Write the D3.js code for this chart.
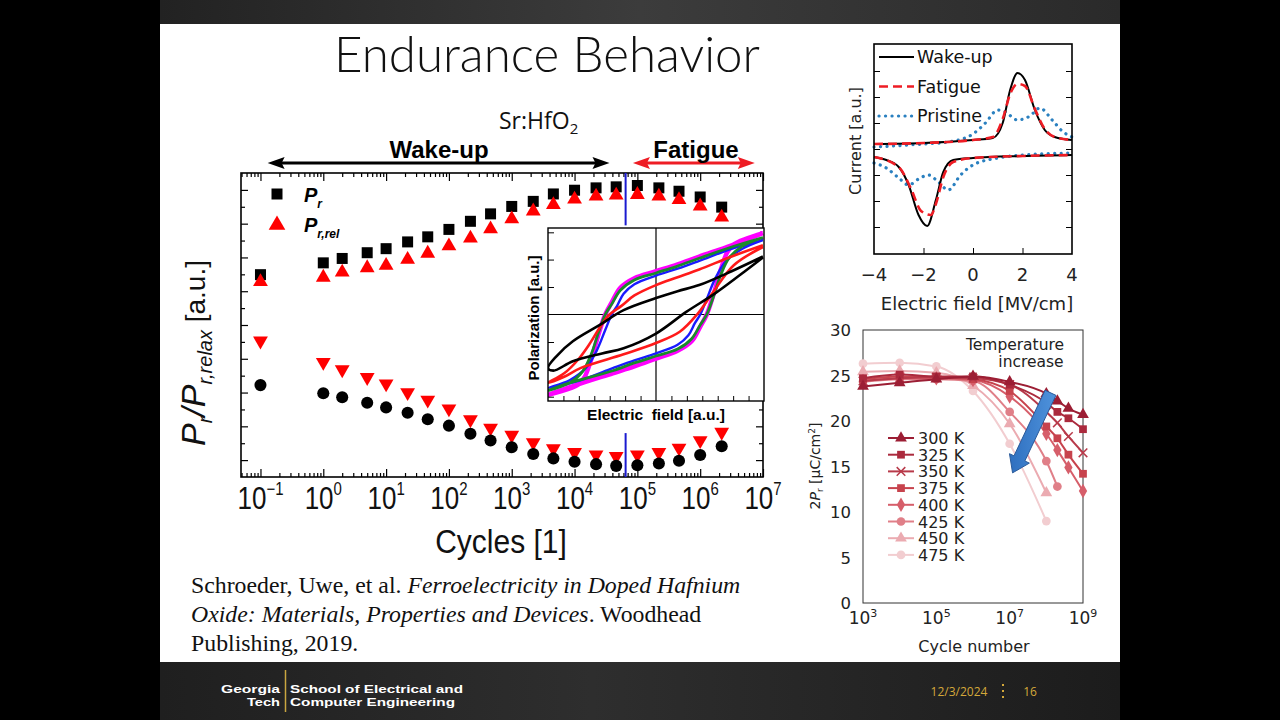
<!DOCTYPE html>
<html>
<head>
<meta charset="utf-8">
<script src="https://cdn.jsdelivr.net/npm/d3@7"></script>
<style>
  body { margin: 0; background: #000; }
  svg { display: block; }
  text { font-family: "Liberation Sans", Arial, sans-serif; }
</style>
</head>
<body>
<div id="chart"></div>
<script>
// ---- main chart: Pr / Pr,relax vs cycles ----
const cycles = [0.1, 1, 2, 5, 10, 22, 46, 100, 220, 460, 1000, 2200, 4600, 1e4, 2.2e4, 4.6e4, 1e5, 2.2e5, 4.6e5, 1e6, 2.2e6];
const prTop = [6.49, 6.84, 6.97, 7.14, 7.26, 7.46, 7.61, 7.83, 8.07, 8.29, 8.51, 8.66, 8.88, 8.99, 9.06, 9.09, 9.13, 9.06, 8.96, 8.79, 8.49];
const prRelTop = [6.28, 6.41, 6.56, 6.69, 6.76, 6.94, 7.12, 7.34, 7.57, 7.84, 8.14, 8.37, 8.56, 8.72, 8.81, 8.84, 8.86, 8.81, 8.71, 8.52, 8.19];
const prRelBottom = [4.53, 3.90, 3.68, 3.45, 3.26, 3.00, 2.78, 2.52, 2.20, 1.95, 1.74, 1.52, 1.34, 1.23, 1.16, 1.11, 1.16, 1.23, 1.36, 1.58, 1.83];
const prBottom = [3.22, 2.98, 2.86, 2.70, 2.56, 2.40, 2.21, 2.02, 1.78, 1.58, 1.38, 1.18, 1.05, 0.95, 0.88, 0.83, 0.85, 0.90, 0.98, 1.15, 1.41];
const decades = [-1, 0, 1, 2, 3, 4, 5, 6, 7];
const markerCycle = 6.5e4;           // blue vertical marker
const wakeUpSpan = [0.13, 3.6e4];
const fatigueSpan = [8.5e4, 7.4e6];

// ---- inset hysteresis loops (E, P in a.u.) ----
const loopMagenta = [[0.99,0.94],[0.7,0.80],[0.4,0.67],[0.2,0.58],[0,0.50],[-0.2,0.42],[-0.33,0.31],[-0.41,0.14],[-0.47,0.0],[-0.53,-0.22],[-0.6,-0.52],[-0.66,-0.72],[-0.72,-0.81],[-1,-0.93],
  [-0.75,-0.82],[-0.4,-0.68],[-0.2,-0.60],[0,-0.51],[0.2,-0.42],[0.33,-0.31],[0.41,-0.14],[0.47,0.0],[0.53,0.22],[0.6,0.52],[0.66,0.72],[0.72,0.81],[0.99,0.94]];
const loopGreen = [[0.99,0.89],[0.7,0.78],[0.4,0.65],[0.2,0.56],[0,0.48],[-0.2,0.40],[-0.33,0.28],[-0.41,0.12],[-0.47,0.0],[-0.53,-0.2],[-0.6,-0.46],[-0.68,-0.66],[-0.8,-0.79],[-1,-0.88],
  [-0.8,-0.79],[-0.4,-0.65],[-0.2,-0.56],[0,-0.48],[0.2,-0.40],[0.33,-0.28],[0.41,-0.12],[0.47,0.0],[0.53,0.2],[0.6,0.46],[0.68,0.66],[0.8,0.79],[0.99,0.89]];
const loopBlue = [[0.99,0.86],[0.7,0.76],[0.4,0.62],[0.2,0.53],[0,0.45],[-0.2,0.35],[-0.3,0.24],[-0.36,0.1],[-0.41,0.0],[-0.47,-0.18],[-0.55,-0.42],[-0.65,-0.62],[-0.8,-0.76],[-1,-0.85],
  [-0.7,-0.76],[-0.4,-0.62],[-0.2,-0.53],[0,-0.45],[0.2,-0.35],[0.3,-0.24],[0.36,-0.1],[0.41,0.0],[0.47,0.18],[0.55,0.42],[0.65,0.62],[0.8,0.76],[0.99,0.86]];
const loopRed = [[0.99,0.80],[0.7,0.67],[0.4,0.52],[0.2,0.43],[0,0.34],[-0.2,0.22],[-0.32,0.1],[-0.43,0.0],[-0.52,-0.15],[-0.62,-0.35],[-0.72,-0.52],[-0.85,-0.68],[-1,-0.79],
  [-0.85,-0.72],[-0.7,-0.62],[-0.3,-0.46],[0,-0.33],[0.22,-0.2],[0.38,0.0],[0.53,0.26],[0.72,0.57],[0.99,0.78]];
const loopBlack = [[0.99,0.67],[0.7,0.50],[0.4,0.34],[0.2,0.27],[0,0.19],[-0.3,0.05],[-0.52,-0.12],[-0.77,-0.31],[-0.92,-0.48],[-1,-0.62],
  [-0.95,-0.65],[-0.77,-0.54],[-0.5,-0.45],[-0.3,-0.39],[0,-0.22],[0.28,0.03],[0.53,0.23],[0.78,0.46],[0.99,0.66]];
const insetETicks = [-6/7, -5/7, -4/7, -3/7, -2/7, -1/7, 1/7, 2/7, 3/7, 4/7, 5/7, 6/7];
const insetPTicks = [-0.95, -0.635, -0.318, 0.318, 0.635, 0.95];

// ---- top right: current vs field ----
const fieldTicks = [-4, -2, 0, 2, 4];
const currentTicks = [-0.78, -0.52, -0.26, 0, 0.26, 0.52, 0.78];
const wakeUpPos = [[-4,0.05],[-2,0.06],[0,0.09],[0.8,0.11],[1.2,0.26],[1.5,0.59],[1.8,0.76],[2.1,0.69],[2.5,0.39],[2.9,0.19],[3.3,0.12],[4,0.09]];
const wakeUpNeg = [[-4,-0.08],[-3.5,-0.11],[-3,-0.18],[-2.6,-0.36],[-2.2,-0.66],[-1.85,-0.77],[-1.5,-0.51],[-1.2,-0.23],[-0.8,-0.11],[0,-0.09],[2,-0.07],[4,-0.06]];
const fatiguePos = [[-4,0.05],[-2,0.06],[0,0.09],[0.8,0.12],[1.2,0.3],[1.5,0.55],[1.8,0.65],[2.1,0.63],[2.5,0.4],[2.9,0.2],[3.3,0.12],[4,0.09]];
const fatigueNeg = [[-4,-0.08],[-3,-0.18],[-2.5,-0.4],[-2.1,-0.62],[-1.7,-0.66],[-1.5,-0.55],[-1.2,-0.28],[-0.8,-0.13],[0,-0.09],[2,-0.07],[4,-0.06]];
const pristinePos = [[-4,0.02],[-2,0.05],[-1,0.07],[0,0.15],[0.5,0.26],[1.0,0.39],[1.3,0.37],[1.8,0.29],[2.3,0.33],[2.7,0.41],[3.2,0.29],[3.6,0.18],[4,0.12]];
const pristineNeg = [[-4,-0.14],[-3.5,-0.19],[-3.0,-0.29],[-2.6,-0.36],[-2.2,-0.3],[-1.8,-0.26],[-1.4,-0.33],[-1.0,-0.41],[-0.5,-0.26],[0,-0.16],[1,-0.09],[2,-0.06],[4,-0.04]];

// ---- bottom right: 2Pr vs cycle number ----
const cycleNum = [1e3, 1e4, 1e5, 1e6, 1e7, 1e8, 2e8, 4e8, 1e9];
const tempLabels = ["300 K", "325 K", "350 K", "375 K", "400 K", "425 K", "450 K", "475 K"];
const pr300 = [23.8, 24.2, 24.6, 24.9, 24.3, 23.0, 22.2, 21.4, 20.7];
const pr325 = [24.7, 25.1, 24.9, 24.9, 24.0, 22.0, 21.0, 20.3, 19.1];
const pr350 = [24.4, 24.7, 24.8, 24.7, 24.0, 21.0, 19.8, 18.3, 16.5];
const pr375 = [24.6, 24.9, 24.8, 24.6, 23.3, 19.4, 18.1, 16.3, 14.2];
const pr400 = [24.4, 24.7, 24.7, 24.5, 22.7, 18.6, 16.8, 14.9, 12.3];
const pr425 = [24.3, 24.6, 24.6, 24.4, 21.0, 15.6, 12.8, null, null];
const pr450 = [25.4, 25.5, 25.3, 23.9, 19.7, 12.1, null, null, null];
const pr475 = [26.3, 26.4, 26.0, 23.3, 17.5, 9.0, null, null, null];
const prTicks = [0, 5, 10, 15, 20, 25, 30];
const cycleTicks = [3, 5, 7, 9];
const arrowFrom = [1.3e8, 23.1], arrowTo = [1.2e7, 14.3];

const W = 1280, H = 720;
const svg = d3.select("#chart").append("svg")
  .attr("width", W).attr("height", H)
  .attr("viewBox", [0, 0, W, H]);

const defs = svg.append("defs");
const topGrad = defs.append("linearGradient").attr("id", "topg").attr("x1", 0).attr("x2", 1);
topGrad.append("stop").attr("offset", 0).attr("stop-color", "#222");
topGrad.append("stop").attr("offset", 0.5).attr("stop-color", "#3c3c3c");
topGrad.append("stop").attr("offset", 1).attr("stop-color", "#2a2a2a");
const footGrad = defs.append("linearGradient").attr("id", "footg").attr("x1", 0).attr("x2", 1);
footGrad.append("stop").attr("offset", 0).attr("stop-color", "#1f1f1f");
footGrad.append("stop").attr("offset", 0.45).attr("stop-color", "#2e2e2e");
footGrad.append("stop").attr("offset", 1).attr("stop-color", "#1c1c1c");
const arrowGrad = defs.append("linearGradient").attr("id", "arrg").attr("x1", 0).attr("x2", 1);
arrowGrad.append("stop").attr("offset", 0).attr("stop-color", "#2f6fbf");
arrowGrad.append("stop").attr("offset", 1).attr("stop-color", "#4f93dc");

// slide frame
svg.append("rect").attr("width", W).attr("height", H).attr("fill", "#000");
svg.append("rect").attr("x", 160).attr("y", 0).attr("width", 960).attr("height", 24).attr("fill", "url(#topg)");
svg.append("rect").attr("x", 160).attr("y", 24).attr("width", 960).attr("height", 638).attr("fill", "#fff");
svg.append("rect").attr("x", 160).attr("y", 662).attr("width", 960).attr("height", 58).attr("fill", "url(#footg)");

svg.append("text")
  .attr("x", 547).attr("y", 72)
  .attr("text-anchor", "middle")
  .style("font-family", "Lato, 'Open Sans', sans-serif")
  .style("font-weight", 300)
  .style("font-size", "49px")
  .attr("textLength", 426).attr("lengthAdjust", "spacingAndGlyphs")
  .attr("fill", "#111")
  .text("Endurance Behavior");

let sr = svg.append("text")
  .attr("x", 499).attr("y", 129)
  .style("font-family", "'Open Sans', sans-serif")
  .style("font-size", "23px")
  .attr("fill", "#111");
sr.append("tspan").text("Sr:HfO");
sr.append("tspan").attr("dy", 5).style("font-size", "15px").text("2");

// ---- main chart ----
const mx = d3.scaleLog().domain([Math.pow(10, -1.31), 1e7]).range([241, 763]);
const my = d3.scaleLinear().domain([0.5, 9.5]).range([477, 173]);

const majorX = decades.map(d => Math.pow(10, d));
const minorX = mx.ticks().filter(t => !majorX.some(m => Math.abs(m - t) / m < 1e-6));
const majorY = d3.range(1, 10);
const minorY = d3.range(1.5, 9.5, 1);

function tickAxis(axis, tr) {
  const g = svg.append("g").attr("transform", tr).call(axis);
  g.select(".domain").remove();
  g.selectAll("line").attr("stroke", "#000").attr("stroke-width", 1.2);
  return g;
}
tickAxis(d3.axisBottom(mx).tickValues(majorX).tickSize(-8).tickFormat(""), "translate(0,477)");
tickAxis(d3.axisBottom(mx).tickValues(minorX).tickSize(-4).tickFormat(""), "translate(0,477)");
tickAxis(d3.axisTop(mx).tickValues(majorX).tickSize(-8).tickFormat(""), "translate(0,173)");
tickAxis(d3.axisTop(mx).tickValues(minorX).tickSize(-4).tickFormat(""), "translate(0,173)");
tickAxis(d3.axisLeft(my).tickValues(majorY).tickSize(-7).tickFormat(""), "translate(241,0)");
tickAxis(d3.axisLeft(my).tickValues(minorY).tickSize(-4).tickFormat(""), "translate(241,0)");
tickAxis(d3.axisRight(my).tickValues(majorY).tickSize(-7).tickFormat(""), "translate(763,0)");
tickAxis(d3.axisRight(my).tickValues(minorY).tickSize(-4).tickFormat(""), "translate(763,0)");
svg.append("rect").attr("x", 241).attr("y", 173).attr("width", 522).attr("height", 304)
  .attr("fill", "none").attr("stroke", "#000").attr("stroke-width", 1.6);

for (const d of decades) {
  const t = svg.append("text")
    .attr("transform", `translate(${mx(Math.pow(10, d))},509) scale(1,1.2)`)
    .attr("text-anchor", "middle")
    .attr("fill", "#111")
    .style("font-size", "26px");
  t.append("tspan").text("10");
  t.append("tspan").attr("dy", -12).style("font-size", "15px").text(d < 0 ? "\u2212" + (-d) : d);
}
svg.append("text")
  .attr("transform", "translate(501,553) scale(1,1.12)")
  .attr("text-anchor", "middle")
  .attr("fill", "#111")
  .style("font-size", "30px")
  .text("Cycles [1]");

const yl = svg.append("text")
  .attr("transform", "translate(205,446) rotate(-90)")
  .attr("fill", "#111")
  .style("font-size", "34px");
yl.append("tspan").style("font-style", "italic").text("P");
yl.append("tspan").style("font-style", "italic").style("font-size", "20px").attr("dy", 7).text("r");
yl.append("tspan").style("font-style", "italic").attr("dy", -7).text("/P");
yl.append("tspan").style("font-style", "italic").style("font-size", "20px").attr("dy", 7).text("r,relax");
yl.append("tspan").style("font-size", "28px").attr("dy", -7).text(" [a.u.]");

// marker line
const bx0 = mx(markerCycle);
svg.append("line").attr("x1", bx0).attr("x2", bx0).attr("y1", my(9.5)).attr("y2", my(7.95))
  .attr("stroke", "#1a1ad0").attr("stroke-width", 2);
svg.append("line").attr("x1", bx0).attr("x2", bx0).attr("y1", my(1.8)).attr("y2", my(0.5))
  .attr("stroke", "#1a1ad0").attr("stroke-width", 2);

// points
const symSquare = d3.symbol().type(d3.symbolSquare).size(121)();
const symTri = d3.symbol().type(d3.symbolTriangle).size(95)();
const symCircle = d3.symbol().type(d3.symbolCircle).size(115)();
function points(vals, path, fill, rot) {
  svg.append("g").selectAll("path").data(cycles).join("path")
    .attr("d", path)
    .attr("fill", fill)
    .attr("transform", (c, i) => `translate(${mx(c)},${my(vals[i])})${rot ? " rotate(180)" : ""}`);
}
points(prTop, symSquare, "#000");
points(prRelTop, symTri, "#ff0000");
points(prRelBottom, symTri, "#ff0000", true);
points(prBottom, symCircle, "#000");

// legend inside main chart
svg.append("path").attr("d", symSquare).attr("transform", "translate(277,194)");
svg.append("path").attr("d", d3.symbol().type(d3.symbolTriangle).size(120)()).attr("fill", "#ff0000").attr("transform", "translate(277,225)");
const lg1 = svg.append("text").attr("x", 304).attr("y", 202).style("font-size", "20px").style("font-style", "italic").style("font-weight", "bold");
lg1.append("tspan").text("P");
lg1.append("tspan").attr("dy", 6).style("font-size", "12px").text("r");
const lg2 = svg.append("text").attr("x", 304).attr("y", 232).style("font-size", "20px").style("font-style", "italic").style("font-weight", "bold");
lg2.append("tspan").text("P");
lg2.append("tspan").attr("dy", 6).style("font-size", "12px").text("r,rel");

// wake-up / fatigue arrows
function dblArrow(span, y, color) {
  const x1 = mx(span[0]), x2 = mx(span[1]);
  svg.append("line").attr("x1", x1 + 10).attr("x2", x2 - 10).attr("y1", y).attr("y2", y)
    .attr("stroke", color).attr("stroke-width", 3);
  svg.append("path").attr("d", `M${x1},${y}L${x1 + 17},${y - 6}L${x1 + 14},${y}L${x1 + 17},${y + 6}Z`).attr("fill", color);
  svg.append("path").attr("d", `M${x2},${y}L${x2 - 17},${y - 6}L${x2 - 14},${y}L${x2 - 17},${y + 6}Z`).attr("fill", color);
}
dblArrow(wakeUpSpan, 163, "#000");
dblArrow(fatigueSpan, 163, "#ee1c24");
svg.append("text").attr("x", 439).attr("y", 158).attr("text-anchor", "middle")
  .style("font-size", "24px").style("font-weight", "bold").text("Wake-up");
svg.append("text").attr("x", 696).attr("y", 158).attr("text-anchor", "middle")
  .style("font-size", "24px").style("font-weight", "bold").text("Fatigue");

// ---- inset ----
const ix = d3.scaleLinear().domain([-1, 1]).range([548, 764]);
const iy = d3.scaleLinear().domain([-1, 1]).range([401, 228]);
defs.append("clipPath").attr("id", "insetclip").append("rect")
  .attr("x", 548).attr("y", 228).attr("width", 216).attr("height", 173);
const inset = svg.append("g");
inset.append("rect").attr("x", 548).attr("y", 228).attr("width", 216).attr("height", 173).attr("fill", "#fff");
inset.append("line").attr("x1", ix(0)).attr("x2", ix(0)).attr("y1", 228).attr("y2", 401).attr("stroke", "#000").attr("stroke-width", 1.2);
inset.append("line").attr("x1", 548).attr("x2", 764).attr("y1", iy(0)).attr("y2", iy(0)).attr("stroke", "#000").attr("stroke-width", 1.2);
const loopLine = d3.line().x(d => ix(d[0])).y(d => iy(d[1])).curve(d3.curveCatmullRom.alpha(0.5));
const loops = [[loopMagenta, "#ff00ff", 4.5], [loopBlue, "#1a1aff", 2.4], [loopGreen, "#1a8a2a", 2.8], [loopRed, "#ff1a1a", 2.6], [loopBlack, "#000", 2.6]];
const loopG = inset.append("g").attr("clip-path", "url(#insetclip)");
for (const [pts, col, w] of loops) {
  loopG.append("path").datum(pts).attr("d", loopLine).attr("fill", "none").attr("stroke", col).attr("stroke-width", w);
}
let ig = inset.append("g").attr("transform", "translate(0,401)")
  .call(d3.axisBottom(ix).tickValues(insetETicks).tickSize(-5).tickFormat(""));
ig.select(".domain").remove();
ig.selectAll("line").attr("stroke", "#000");
ig = inset.append("g").attr("transform", "translate(548,0)")
  .call(d3.axisLeft(iy).tickValues(insetPTicks).tickSize(-6).tickFormat(""));
ig.select(".domain").remove();
ig.selectAll("line").attr("stroke", "#000");
inset.append("rect").attr("x", 548).attr("y", 228).attr("width", 216).attr("height", 173)
  .attr("fill", "none").attr("stroke", "#000").attr("stroke-width", 1.4);
inset.append("text").attr("transform", "translate(539,318) rotate(-90)").attr("text-anchor", "middle")
  .style("font-size", "15px").style("font-weight", "bold").text("Polarization [a.u.]");
inset.append("text").attr("x", 656).attr("y", 420).attr("text-anchor", "middle")
  .style("font-size", "15.5px").style("font-weight", "bold").style("white-space", "pre")
  .text("Electric  field [a.u.]");

// ---- citation ----
const cite = svg.append("text").style("font-family", "'Liberation Serif', 'Times New Roman', serif")
  .style("font-size", "23.8px").attr("fill", "#111");
const c1 = cite.append("tspan").attr("x", 191).attr("y", 593);
c1.append("tspan").text("Schroeder, Uwe, et al. ");
c1.append("tspan").style("font-style", "italic").text("Ferroelectricity in Doped Hafnium");
const c2 = cite.append("tspan").attr("x", 191).attr("y", 622);
c2.append("tspan").style("font-style", "italic").text("Oxide: Materials, Properties and Devices");
c2.append("tspan").text(". Woodhead");
cite.append("tspan").attr("x", 191).attr("y", 651).text("Publishing, 2019.");

// ---- top right: I-E curves ----
const tx = d3.scaleLinear().domain([-4, 4]).range([874, 1072]);
const ty = d3.scaleLinear().domain([-1.05, 1.05]).range([254, 44]);
const sansV = "'DejaVu Sans', Verdana, sans-serif";
let tg = svg.append("g").attr("transform", "translate(0,254)")
  .call(d3.axisBottom(tx).tickValues([-2, 0, 2]).tickSize(-6).tickFormat(""));
tg.select(".domain").remove();
tg = svg.append("g").attr("transform", "translate(1072,0)")
  .call(d3.axisRight(ty).tickValues(currentTicks).tickSize(-6).tickFormat(""));
tg.select(".domain").remove();
tg = svg.append("g").attr("transform", "translate(874,0)")
  .call(d3.axisLeft(ty).tickValues(currentTicks).tickSize(-6).tickFormat(""));
tg.select(".domain").remove();
const ivLine = d3.line().x(d => tx(d[0])).y(d => ty(d[1])).curve(d3.curveMonotoneX);
const ivStyles = [
  [pristinePos, "#2a80c0", 3.2, "0.1,6.4"], [pristineNeg, "#2a80c0", 3.2, "0.1,6.4"],
  [wakeUpPos, "#000", 2, null], [wakeUpNeg, "#000", 2, null],
  [fatiguePos, "#ee1c24", 2.6, "9,5"], [fatigueNeg, "#ee1c24", 2.6, "9,5"]
];
for (const [pts, col, w, dash] of ivStyles) {
  svg.append("path").datum(pts).attr("d", ivLine).attr("fill", "none")
    .attr("stroke", col).attr("stroke-width", w)
    .attr("stroke-dasharray", dash).attr("stroke-linecap", dash && dash.startsWith("0.1") ? "round" : "butt");
}
svg.append("rect").attr("x", 874).attr("y", 44).attr("width", 198).attr("height", 210)
  .attr("fill", "none").attr("stroke", "#000").attr("stroke-width", 1.6);
const ivLegend = [["Wake-up", "#000", null, 2], ["Fatigue", "#ee1c24", "9,5", 2.6], ["Pristine", "#2a80c0", "0.1,6.4", 3.2]];
ivLegend.forEach(([name, col, dash, w], i) => {
  const y = 57 + i * 29.5;
  svg.append("line").attr("x1", 879).attr("x2", 914).attr("y1", y).attr("y2", y)
    .attr("stroke", col).attr("stroke-width", w).attr("stroke-dasharray", dash)
    .attr("stroke-linecap", dash && dash.startsWith("0.1") ? "round" : "butt");
  svg.append("text").attr("x", 917).attr("y", y + 6).style("font-family", sansV).style("font-size", "17.5px")
    .attr("fill", "#111").text(name);
});
for (const v of fieldTicks) {
  svg.append("text").attr("x", tx(v)).attr("y", 281).attr("text-anchor", "middle")
    .style("font-family", sansV).style("font-size", "18px").attr("fill", "#222")
    .text(v < 0 ? "\u2212" + (-v) : v);
}
svg.append("text").attr("x", 977).attr("y", 310).attr("text-anchor", "middle")
  .style("font-family", sansV).style("font-size", "18px").attr("fill", "#222").text("Electric field [MV/cm]");
svg.append("text").attr("transform", "translate(861,141) rotate(-90)").attr("text-anchor", "middle")
  .style("font-family", sansV).style("font-size", "16px").attr("fill", "#222").text("Current [a.u.]");

// ---- bottom right: 2Pr vs cycles at temperatures ----
const bx = d3.scaleLog().domain([1e3, 1e9]).range([863, 1083]);
const by = d3.scaleLinear().domain([0, 30]).range([603, 330]);
const tempSeries = [pr300, pr325, pr350, pr375, pr400, pr425, pr450, pr475];
const tempColors = ["#9c1e34", "#ab2a3d", "#b83a4a", "#c7434d", "#d65e6a", "#e07f88", "#ebabb1", "#f2cdd0"];
const tempSymbols = [d3.symbolTriangle, d3.symbolSquare, d3.symbolTimes, d3.symbolSquare, d3.symbolDiamond, d3.symbolCircle, d3.symbolTriangle, d3.symbolCircle];
svg.append("rect").attr("x", 863).attr("y", 330).attr("width", 220).attr("height", 273)
  .attr("fill", "none").attr("stroke", "#333").attr("stroke-width", 1);
const tLine = d3.line().defined(d => d[1] != null).x(d => bx(d[0])).y(d => by(d[1])).curve(d3.curveMonotoneX);
const order = [7, 6, 5, 4, 3, 2, 1, 0];
for (const k of order) {
  const pts = cycleNum.map((c, i) => [c, tempSeries[k][i]]);
  const col = tempColors[k];
  const g = svg.append("g");
  g.append("path").datum(pts).attr("d", tLine).attr("fill", "none").attr("stroke", col).attr("stroke-width", 2);
  const isStroke = tempSymbols[k] === d3.symbolTimes;
  g.selectAll("path.m").data(pts.filter(d => d[1] != null)).join("path").attr("class", "m")
    .attr("d", d3.symbol().type(tempSymbols[k]).size(isStroke ? 50 : 60)())
    .attr("transform", d => `translate(${bx(d[0])},${by(d[1])})`)
    .attr("fill", isStroke ? "none" : col).attr("stroke", isStroke ? col : "none").attr("stroke-width", 1.5);
}
// blue arrow annotation
{
  const x0 = bx(arrowFrom[0]), y0 = by(arrowFrom[1]), x1 = bx(arrowTo[0]), y1 = by(arrowTo[1]);
  const len = Math.hypot(x1 - x0, y1 - y0), ux = (x1 - x0) / len, uy = (y1 - y0) / len;
  const nx = -uy, ny = ux, sw = 6, hw = 11, hl = 16;
  const bxp = x1 - ux * hl, byp = y1 - uy * hl;
  const pts = [[x0 + nx * sw, y0 + ny * sw], [bxp + nx * sw, byp + ny * sw], [bxp + nx * hw, byp + ny * hw], [x1, y1],
               [bxp - nx * hw, byp - ny * hw], [bxp - nx * sw, byp - ny * sw], [x0 - nx * sw, y0 - ny * sw]];
  svg.append("path").attr("d", "M" + pts.map(p => p.join(",")).join("L") + "Z")
    .attr("fill", "url(#arrg)").attr("stroke", "#2a5a9a").attr("stroke-width", 1);
}
for (const v of prTicks) {
  svg.append("text").attr("x", 851).attr("y", by(v) + 6).attr("text-anchor", "end")
    .style("font-family", sansV).style("font-size", "16.5px").attr("fill", "#222").text(v);
}
for (const e of cycleTicks) {
  const t = svg.append("text").attr("x", bx(Math.pow(10, e))).attr("y", 624).attr("text-anchor", "middle")
    .style("font-family", sansV).style("font-size", "17px").attr("fill", "#222");
  t.append("tspan").text("10");
  t.append("tspan").attr("dy", -7).style("font-size", "11px").text(e);
}
svg.append("text").attr("x", 974).attr("y", 652).attr("text-anchor", "middle")
  .style("font-family", sansV).style("font-size", "16px").attr("fill", "#222").text("Cycle number");
const byl = svg.append("text").attr("transform", "translate(820,466) rotate(-90)").attr("text-anchor", "middle")
  .style("font-family", sansV).style("font-size", "14px").attr("fill", "#222");
byl.append("tspan").text("2");
byl.append("tspan").style("font-style", "italic").text("P");
byl.append("tspan").attr("dy", 3).style("font-size", "9px").text("r");
byl.append("tspan").attr("dy", -3).text(" [\u03bcC/cm");
byl.append("tspan").attr("dy", -5).style("font-size", "9px").text("2");
byl.append("tspan").attr("dy", 5).text("]");
svg.append("text").attr("x", 1015).attr("y", 350).attr("text-anchor", "middle")
  .style("font-family", sansV).style("font-size", "15.5px").attr("fill", "#222").text("Temperature");
svg.append("text").attr("x", 1031).attr("y", 367).attr("text-anchor", "middle")
  .style("font-family", sansV).style("font-size", "15.5px").attr("fill", "#222").text("increase");
tempLabels.forEach((name, k) => {
  const y = 438 + k * 16.7;
  const col = tempColors[k];
  const isStroke = tempSymbols[k] === d3.symbolTimes;
  svg.append("line").attr("x1", 888).attr("x2", 914).attr("y1", y).attr("y2", y).attr("stroke", col).attr("stroke-width", 2);
  svg.append("path").attr("d", d3.symbol().type(tempSymbols[k]).size(isStroke ? 50 : 60)())
    .attr("transform", `translate(901,${y})`)
    .attr("fill", isStroke ? "none" : col).attr("stroke", isStroke ? col : "none").attr("stroke-width", 1.5);
  svg.append("text").attr("x", 918).attr("y", y + 6).style("font-family", sansV).style("font-size", "16px")
    .attr("fill", "#222").text(name);
});

// ---- footer ----
const ft = svg.append("g").style("font-weight", "bold").style("font-size", "11px").attr("fill", "#fff")
  .attr("lengthAdjust", "spacingAndGlyphs");
ft.append("text").attr("x", 280).attr("y", 693).attr("text-anchor", "end").attr("textLength", 59).attr("lengthAdjust", "spacingAndGlyphs").text("Georgia");
ft.append("text").attr("x", 280).attr("y", 706).attr("text-anchor", "end").attr("textLength", 33).attr("lengthAdjust", "spacingAndGlyphs").text("Tech");
ft.append("text").attr("x", 290).attr("y", 693).attr("textLength", 173).attr("lengthAdjust", "spacingAndGlyphs").text("School of Electrical and");
ft.append("text").attr("x", 290).attr("y", 706).attr("textLength", 165).attr("lengthAdjust", "spacingAndGlyphs").text("Computer Engineering");
svg.append("line").attr("x1", 285.5).attr("x2", 285.5).attr("y1", 670).attr("y2", 712).attr("stroke", "#c9a640").attr("stroke-width", 1.5);
svg.append("text").attr("x", 959).attr("y", 696).attr("text-anchor", "middle")
  .style("font-family", "'Open Sans', sans-serif").style("font-size", "12px").attr("fill", "#d4a83a").text("12/3/2024");
svg.append("line").attr("x1", 1003).attr("x2", 1003).attr("y1", 684).attr("y2", 702)
  .attr("stroke", "#d4a83a").attr("stroke-width", 2).attr("stroke-dasharray", "2,4");
svg.append("text").attr("x", 1030).attr("y", 696).attr("text-anchor", "middle")
  .style("font-family", "'Open Sans', sans-serif").style("font-size", "12px").attr("fill", "#d4a83a").text("16");
</script>
</body>
</html>
